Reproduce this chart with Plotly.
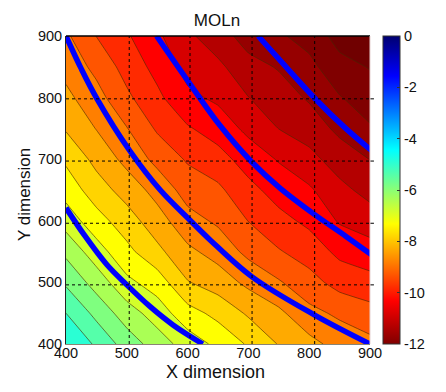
import plotly.graph_objects as go

title_text = "MOLn"
x_title = "X dimension"
y_title = "Y dimension"
x_grid = [400, 450, 500, 550, 600, 650, 700, 750, 800, 850, 900]
y_grid = [400, 450, 500, 550, 600, 650, 700, 750, 800, 850, 900]
tick_vals = [400, 500, 600, 700, 800, 900]
x_dash = [504, 604, 706, 809]
y_dash = [496, 596, 697, 798]

# one row per y_grid value, bottom to top
z_400 = [-4.40, -5.10, -5.72, -6.24, -6.73, -7.12, -7.56, -8.03, -8.34, -8.69, -8.86]
z_450 = [-5.00, -5.64, -6.26, -6.74, -7.30, -7.65, -8.07, -8.39, -8.86, -9.09, -9.31]
z_500 = [-5.58, -6.21, -6.88, -7.23, -7.97, -8.24, -8.62, -8.95, -9.31, -9.69, -9.83]
z_550 = [-6.12, -6.78, -7.36, -7.87, -8.39, -8.69, -9.13, -9.46, -9.73, -10.12, -10.29]
z_600 = [-6.72, -7.30, -7.77, -8.29, -8.82, -9.08, -9.51, -9.85, -10.11, -10.55, -10.75]
z_650 = [-7.20, -7.76, -8.21, -8.68, -9.20, -9.40, -9.85, -10.20, -10.43, -10.86, -11.17]
z_700 = [-7.59, -8.15, -8.65, -9.14, -9.56, -9.81, -10.22, -10.54, -10.85, -11.23, -11.51]
z_750 = [-8.05, -8.52, -8.98, -9.57, -9.95, -10.23, -10.62, -11.01, -11.23, -11.62, -11.95]
z_800 = [-8.38, -8.81, -9.40, -9.89, -10.39, -10.59, -10.99, -11.27, -11.56, -11.97, -12.25]
z_850 = [-8.66, -9.14, -9.69, -10.16, -10.67, -10.89, -11.33, -11.54, -11.86, -12.33, -12.53]
z_900 = [-8.91, -9.51, -9.94, -10.41, -10.90, -11.28, -11.71, -11.93, -12.19, -12.69, -12.81]
z_rows = [z_400, z_450, z_500, z_550, z_600, z_650, z_700, z_750, z_800, z_850, z_900]

band_colors = ["#700000", "#800000", "#960000", "#b40000", "#d70000", "#ff0000",
               "#ff2a00", "#ff5500", "#ff7f00", "#ffaa00", "#ffd400", "#ffff00",
               "#d4ff2a", "#aaff55", "#7fff7f", "#55ffaa", "#2affd4"]

curve1_x = [400, 430, 467, 500, 538, 576, 625]
curve1_y = [621, 577, 529, 496, 461, 431, 400]
curve2_x = [400, 425, 451, 504, 555, 604, 637, 706, 809, 900]
curve2_y = [900, 847, 798, 715, 650, 601, 569, 509, 447, 400]
curve3_x = [549, 604, 653, 706, 752, 809, 860, 905]
curve3_y = [900, 822, 755, 695, 653, 610, 575, 543]
curve4_x = [716, 747, 809, 860, 905]
curve4_y = [900, 866, 799, 750, 712]

cbar_ticks = [0, -2, -4, -6, -8, -10, -12]
cbar_labels = ["0", "-2", "-4", "-6", "-8", "-10", "-12"]
jet = [[0, "#800000"], [0.14, "#ff0000"], [0.39, "#ffff00"], [0.51, "#80ff80"],
       [0.63, "#00ffff"], [0.87, "#0000ff"], [1, "#000070"]]

FONT = "Liberation Sans, Arial, sans-serif"
n = len(band_colors)
scale = [[i / (n - 1), c] for i, c in enumerate(band_colors)]

fig = go.Figure()
fig.add_trace(go.Contour(
    x=x_grid, y=y_grid, z=z_rows, colorscale=scale, showscale=False, hoverinfo="skip",
    autocontour=False, contours=dict(start=-12.5, end=-5, size=0.5, coloring="fill"),
    line=dict(color="rgba(70,40,0,0.6)", width=1, smoothing=0.3),
))
for cx, cy in [(curve1_x, curve1_y), (curve2_x, curve2_y), (curve3_x, curve3_y), (curve4_x, curve4_y)]:
    fig.add_trace(go.Scatter(x=cx, y=cy, mode="lines", cliponaxis=False, showlegend=False,
                             line=dict(color="#0000ff", width=5.5, shape="spline", smoothing=1)))
fig.add_trace(go.Scatter(
    x=[None, None], y=[None, None], mode="markers", showlegend=False,
    marker=dict(color=[-12, 0], cmin=-12, cmax=0, colorscale=jet, showscale=True,
                colorbar=dict(x=1.0428, xanchor="left", y=0, yanchor="bottom", len=1, lenmode="fraction",
                              thickness=17, thicknessmode="pixels", xpad=0, ypad=0,
                              outlinecolor="#333333", outlinewidth=1,
                              tickmode="array", tickvals=cbar_ticks, ticktext=cbar_labels,
                              ticks="inside", ticklen=3, tickcolor="#333333",
                              tickfont=dict(family=FONT, size=14.5, color="#111111"))),
))

dash = dict(color="black", width=1, dash="3px,3px")
for v in x_dash:
    fig.add_shape(type="line", xref="x", yref="paper", x0=v, x1=v, y0=0, y1=1, line=dash, layer="above")
for v in y_dash:
    fig.add_shape(type="line", xref="paper", yref="y", x0=0, x1=1, y0=v, y1=v, line=dash, layer="above")
    fig.add_shape(type="line", xref="paper", yref="y", x0=1, x1=1.013, y0=v, y1=v,
                  line=dict(color="black", width=1), layer="above")
fig.add_shape(type="line", xref="paper", yref="paper", x0=0, x1=1, y0=1, y1=1,
              line=dict(color="black", width=1.5), layer="above")
fig.add_shape(type="line", xref="paper", yref="paper", x0=1, x1=1, y0=0, y1=1,
              line=dict(color="#e6d2d2", width=1), layer="above")

axis = dict(range=[400, 900], tickmode="array", tickvals=tick_vals, showgrid=False, zeroline=False,
            ticks="", showline=True, tickfont=dict(family=FONT, size=14.5, color="#111111"))
fig.update_layout(
    width=446, height=392, autosize=False, showlegend=False,
    margin=dict(l=66, r=76, t=36, b=48), paper_bgcolor="white", plot_bgcolor="white",
    title=dict(text=title_text, x=217 / 446, xanchor="center", y=1 - 20 / 392, yanchor="middle",
               font=dict(family=FONT, size=17, color="#111111")),
    xaxis=dict(axis, linecolor="#8a8474", linewidth=1, ticklabelstandoff=-4),
    yaxis=dict(axis, linecolor="#222222", linewidth=1),
    annotations=[
        dict(text=x_title, xref="paper", yref="paper", x=(215.5 - 66) / 304, y=(344 - 372) / 308,
             xanchor="center", yanchor="middle", showarrow=False,
             font=dict(family=FONT, size=18, color="#111111")),
        dict(text=y_title, xref="paper", yref="paper", x=(24 - 66) / 304, y=(344 - 194) / 308,
             xanchor="center", yanchor="middle", showarrow=False, textangle=-90,
             font=dict(family=FONT, size=17, color="#111111")),
    ],
)
fig.write_html("out.html", config={"displayModeBar": False},
               post_script="document.body.style.margin='0';")
